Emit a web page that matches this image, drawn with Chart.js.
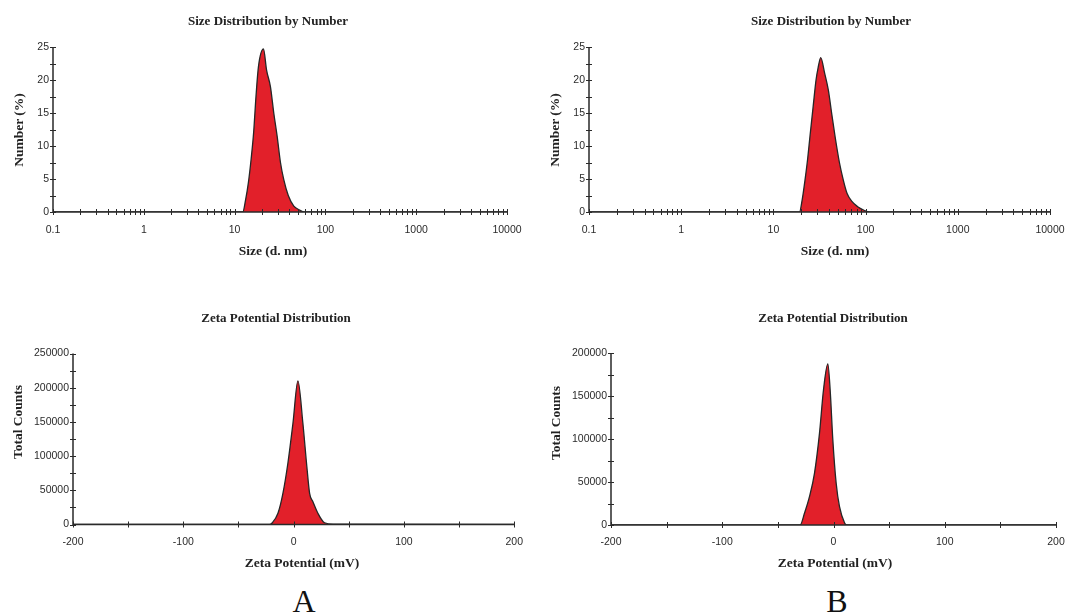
<!DOCTYPE html>
<html>
<head>
<meta charset="utf-8">
<script src="https://cdn.jsdelivr.net/npm/chart.js@4.4.0/dist/chart.umd.min.js"></script>
<style>
  html, body { margin: 0; padding: 0; background: #fff; overflow: hidden; }
  #page { position: relative; width: 1068px; height: 614px; overflow: hidden; background: #fff; }
  canvas { position: absolute; }
  .t { position: absolute; white-space: nowrap; font-family: "Liberation Serif", "Times New Roman", serif; font-weight: bold; color: #222; line-height: 1; transform: translate(-50%, -50%); }
  .title { font-size: 13px; }
  .axt { font-size: 13.5px; }
  .rot { transform: translate(-50%, -50%) rotate(-90deg); }
  .panel { font-weight: normal; font-size: 32px; color: #111; }
</style>
</head>
<body>
<div id="page">
  <canvas id="c1" width="534" height="250" style="left:0;top:0"></canvas>
  <canvas id="c2" width="580" height="250" style="left:534px;top:0"></canvas>
  <canvas id="c3" width="534" height="260" style="left:0;top:300px"></canvas>
  <canvas id="c4" width="580" height="260" style="left:534px;top:300px"></canvas>

  <div class="t title" style="left:268px;top:20px">Size Distribution by Number</div>
  <div class="t title" style="left:831px;top:20px">Size Distribution by Number</div>
  <div class="t axt" style="left:273px;top:251px">Size (d. nm)</div>
  <div class="t axt" style="left:835px;top:251px">Size (d. nm)</div>
  <div class="t axt rot" style="left:19px;top:130px">Number (%)</div>
  <div class="t axt rot" style="left:555px;top:130px">Number (%)</div>

  <div class="t title" style="left:276px;top:317px">Zeta Potential Distribution</div>
  <div class="t title" style="left:833px;top:317px">Zeta Potential Distribution</div>
  <div class="t axt" style="left:302px;top:563px">Zeta Potential (mV)</div>
  <div class="t axt" style="left:835px;top:563px">Zeta Potential (mV)</div>
  <div class="t axt rot" style="left:18px;top:422px">Total Counts</div>
  <div class="t axt rot" style="left:556px;top:423px">Total Counts</div>

  <div class="t panel" style="left:304px;top:601px">A</div>
  <div class="t panel" style="left:837px;top:601px">B</div>
</div>
<script>
// ---------------- DATA ----------------
// Size distribution by number, sample A (diameter nm, number %)
const sizeA_nm  = [0.1, 12.3, 13.2, 14.2, 15.2, 16.2, 17.2, 18.3, 20.8, 22.5, 24.8, 27, 29.4, 32, 34.8, 39, 44.9, 52, 58, 10000];
const sizeA_pct = [0,   0,    1.8,  4.5,  8,    12,   17.5, 22,   24.7, 21.5, 19,   15, 11.5, 7.5, 4.9, 2.5, 0.9, 0.3, 0, 0];

// Size distribution by number, sample B
const sizeB_nm  = [0.1, 19.2, 20.5, 22, 23.5, 24.9, 27, 29, 30.5, 32.6, 36, 39.4, 43, 46.7, 52, 57.4, 63, 71, 82, 95, 110, 10000];
const sizeB_pct = [0,   0,    1.8,  4.8, 8,   11.4, 16, 20, 21.8, 23.4, 21, 18.5, 14.8, 11.4, 7.5, 4.8, 2.8, 1.6, 0.8, 0.3, 0, 0];

// Zeta potential distribution, sample A (mV, total counts)
const zetaA_mV     = [-200, -22, -19.3, -14.2, -9.7, -5.2, -0.6, 3.9, 8.4, 12, 14.5, 17.5, 22, 28, 36, 200];
const zetaA_counts = [0,    0,   2600,  16400, 45600, 89500, 148000, 210000, 148000, 84500, 45600, 33300, 16400, 2600, 500, 0];

// Zeta potential distribution, sample B
const zetaB_mV     = [-200, -30, -26.1, -21.6, -17.1, -12.6, -9, -5.1, -3, -0.6, 2.4, 5.4, 9.9, 12, 200];
const zetaB_counts = [0,    0,   13600, 32900, 60100, 106600, 157000, 187200, 157000, 98900, 48500, 21300, 2700, 0, 0];

// Tick labels
const sizeTickLabels   = [0.1, 1, 10, 100, 1000, 10000];
const numberTickLabels = [0, 5, 10, 15, 20, 25];
const zetaTickLabels   = [-200, -100, 0, 100, 200];
const countsTickLabelsA = [0, 50000, 100000, 150000, 200000, 250000];
const countsTickLabelsB = [0, 50000, 100000, 150000, 200000];

// ---------------- HELPERS ----------------
function pts(xs, ys) { return xs.map((x, i) => ({ x: x, y: ys[i] })); }

// minor tick positions (for the small crossing tick marks)
function logMinor(decades) {
  const out = [];
  decades.forEach(d => { for (let k = 1; k <= 9; k++) { const v = d * k; if (v <= decades[decades.length - 1]) out.push(v); } });
  return out;
}
function halfSteps(labels) {
  const out = [];
  for (let i = 0; i < labels.length; i++) {
    out.push(labels[i]);
    if (i < labels.length - 1) out.push((labels[i] + labels[i + 1]) / 2);
  }
  return out;
}

const crossTicks = {
  id: 'crossTicks',
  afterDatasetsDraw(chart, args, opts) {
    const { ctx, chartArea: ca } = chart;
    const xs = chart.scales.x, ys = chart.scales.y;
    ctx.save();
    ctx.strokeStyle = '#2a2a2a';
    ctx.lineWidth = 1.5;
    ctx.beginPath();
    ctx.moveTo(ca.left, ca.top);
    ctx.lineTo(ca.left, ca.bottom);
    ctx.lineTo(ca.right, ca.bottom);
    ctx.stroke();
    ctx.lineWidth = 1;
    const L = 3;
    ctx.beginPath();
    opts.xTicks.forEach(v => {
      const p = Math.round(xs.getPixelForValue(v)) + 0.5;
      ctx.moveTo(p, ca.bottom - L); ctx.lineTo(p, ca.bottom + L);
    });
    opts.yTicks.forEach(v => {
      const p = Math.round(ys.getPixelForValue(v)) + 0.5;
      ctx.moveTo(ca.left - L, p); ctx.lineTo(ca.left + L, p);
    });
    ctx.stroke();
    ctx.restore();
  }
};

const tickFont = { family: '"Liberation Sans", Arial, sans-serif', size: 10.5 };
const tickColor = '#2b2b2b';
const fillRed = '#e2202a';
const edge = '#262626';

function makeChart(id, cfg) {
  const canvas = document.getElementById(id);
  const W = canvas.width;
  return new Chart(canvas, {
    type: 'line',
    data: {
      datasets: [{
        data: cfg.data,
        borderColor: edge,
        borderWidth: 1.3,
        backgroundColor: fillRed,
        fill: 'origin',
        pointRadius: 0,
        cubicInterpolationMode: 'monotone'
      }]
    },
    options: {
      responsive: false,
      animation: false,
      devicePixelRatio: 1,
      events: [],
      layout: { padding: { top: cfg.top, right: W - cfg.right, left: 0, bottom: 0 } },
      plugins: {
        legend: { display: false },
        tooltip: { enabled: false },
        title: { display: false },
        crossTicks: { xTicks: cfg.xTicks, yTicks: cfg.yTicks }
      },
      scales: {
        x: {
          type: cfg.xType,
          min: cfg.xMin,
          max: cfg.xMax,
          border: { display: false },
          grid: { display: false, drawTicks: false },
          afterBuildTicks: s => { s.ticks = cfg.xLabels.map(v => ({ value: v })); },
          afterFit: s => { s.height = cfg.canvasH - cfg.bottom; },
          ticks: {
            font: tickFont, color: tickColor, padding: cfg.xPad,
            maxRotation: 0, autoSkip: false,
            callback: v => String(v)
          }
        },
        y: {
          type: 'linear',
          min: 0,
          max: cfg.yMax,
          border: { display: false },
          grid: { display: false, drawTicks: false },
          afterBuildTicks: s => { s.ticks = cfg.yLabels.map(v => ({ value: v })); },
          afterFit: s => { s.width = cfg.left; },
          ticks: {
            font: tickFont, color: tickColor, padding: 4,
            callback: v => String(v)
          }
        }
      }
    },
    plugins: [crossTicks]
  });
}

// Top-left: size A (canvas at page 0,0)
makeChart('c1', {
  data: pts(sizeA_nm, sizeA_pct), xType: 'logarithmic', xMin: 0.1, xMax: 10000,
  xLabels: sizeTickLabels, xTicks: logMinor(sizeTickLabels),
  yMax: 25, yLabels: numberTickLabels, yTicks: halfSteps(numberTickLabels),
  left: 53, top: 47, right: 507, bottom: 212, canvasH: 250, xPad: 12
});
// Top-right: size B (canvas at page 534,0)
makeChart('c2', {
  data: pts(sizeB_nm, sizeB_pct), xType: 'logarithmic', xMin: 0.1, xMax: 10000,
  xLabels: sizeTickLabels, xTicks: logMinor(sizeTickLabels),
  yMax: 25, yLabels: numberTickLabels, yTicks: halfSteps(numberTickLabels),
  left: 589 - 534, top: 47, right: 1050 - 534, bottom: 212, canvasH: 250, xPad: 12
});
// Bottom-left: zeta A (canvas at page 0,300)
makeChart('c3', {
  data: pts(zetaA_mV, zetaA_counts), xType: 'linear', xMin: -200, xMax: 200,
  xLabels: zetaTickLabels, xTicks: halfSteps(zetaTickLabels),
  yMax: 250000, yLabels: countsTickLabelsA, yTicks: halfSteps(countsTickLabelsA),
  left: 73, top: 353.5 - 300, right: 515, bottom: 524.5 - 300, canvasH: 260, xPad: 11
});
// Bottom-right: zeta B (canvas at page 534,300)
makeChart('c4', {
  data: pts(zetaB_mV, zetaB_counts), xType: 'linear', xMin: -200, xMax: 200,
  xLabels: zetaTickLabels, xTicks: halfSteps(zetaTickLabels),
  yMax: 200000, yLabels: countsTickLabelsB, yTicks: halfSteps(countsTickLabelsB),
  left: 611 - 534, top: 353 - 300, right: 1056 - 534, bottom: 525 - 300, canvasH: 260, xPad: 11
});
</script>
</body>
</html>
